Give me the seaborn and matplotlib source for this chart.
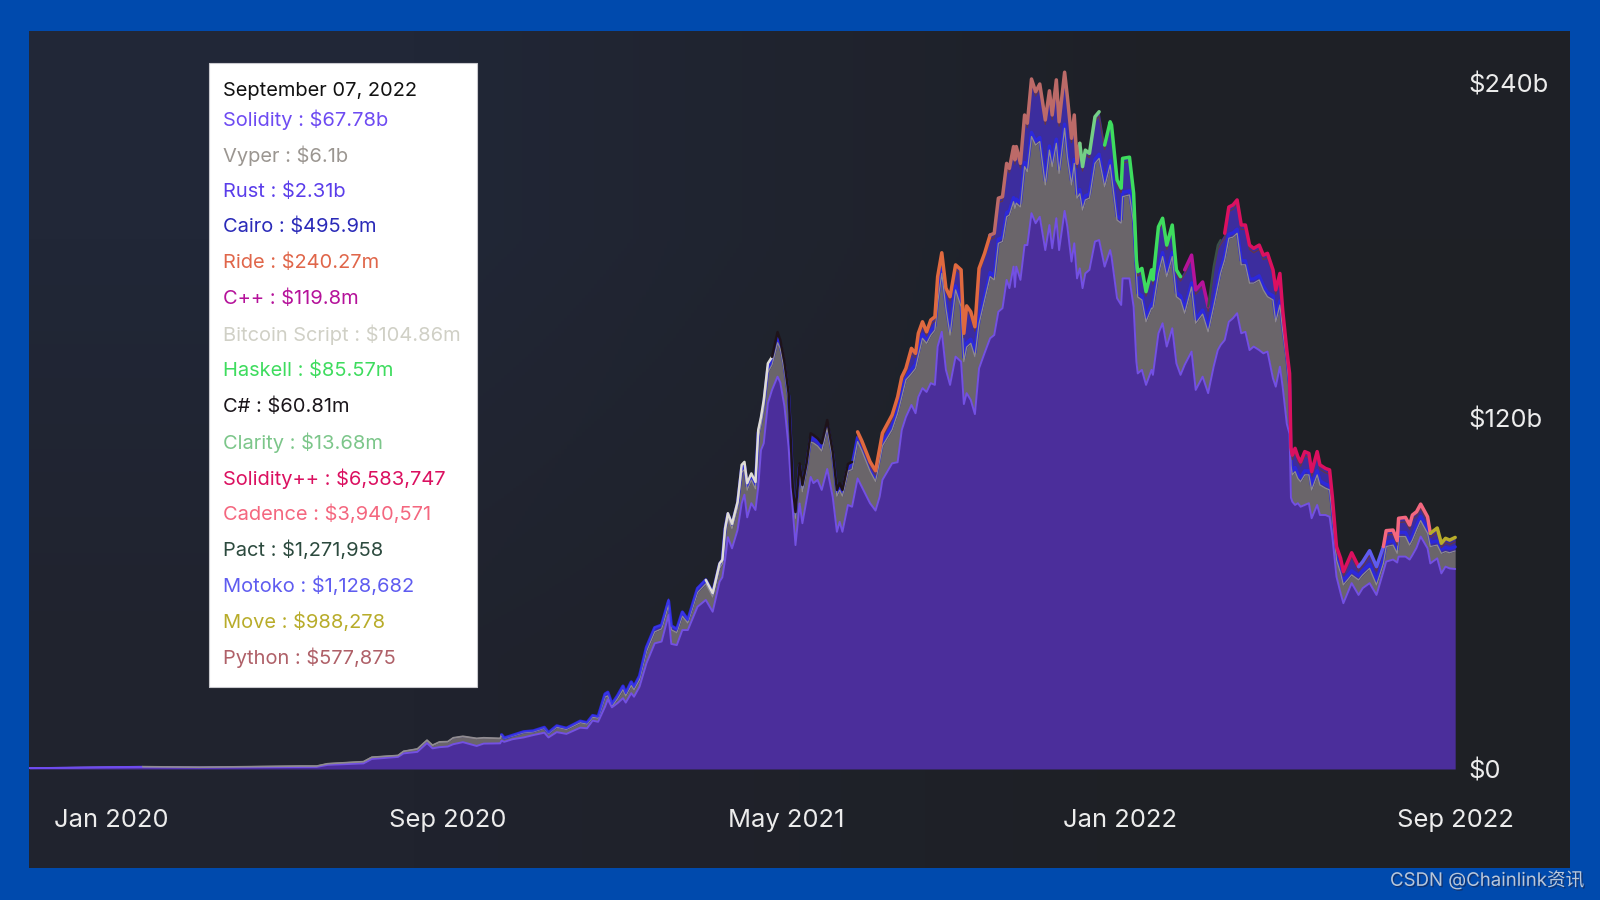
import numpy as np
import pandas as pd
import matplotlib
matplotlib.use("Agg")
import matplotlib.pyplot as plt
import matplotlib.patheffects as pe
from matplotlib.patches import Rectangle
from matplotlib.transforms import ScaledTranslation
import seaborn as sns

# days since 2020-01-07
days = [-59,23,64,137,149,157,183,189,208,212,222,229,233,238,244,248,255,265,270,282,283,285,291,299,306,314,317,323,330,340,345,349,353,358,360,363,367,371,373,377,379,383,
        388,394,399,404,406,410,414,418,425,431,436,441,
        443,445,447,450,454,457,459,461,464,467,469,471,473,476,479,483,485,488,491,493,494,496,499,501,504,507,509,512,515,519,523,526,528,530,534,537,541,544,550,554,557,559,566,570,
        573,576,580,583,585,588,591,594,597,599,602,605,608,612,616,618,620,623,626,629,633,637,640,643,646,649,651,654,655,656,659,662,664,667,670,673,677,680,682,685,687,691,693,696,698,700,702,704,706,709,713,716,720,724,725,729,732,733,738,741,743,744,747,750,754,755,759,762,765,769,772,775,778,783,786,791,795,799,802,
        804,807,810,813,816,819,822,825,828,832,835,838,842,844,847,849,852,854,855,
        856,858,860,862,865,868,870,874,876,880,883,885,888,891,893,899,904,907,912,917,922,924,929,932,933,938,941,943,946,949,954,956,961,964,967,970,974]

# top of the whole stack, $b
total = [.3,.8,.6,1.0,1.0,1.8,2.5,4.0,4.6,6.0,6.8,9.8,8.1,9.2,9.3,10.6,11.1,10.4,10.6,10.4,11.6,10.5,11.4,12.6,12.9,14.1,12.3,14.6,13.8,16.2,15.7,18.1,17.7,25.4,26.0,22.0,24.8,28.1,25.7,29.5,27.9,31.5,
         41.3,48,48.8,57.5,48.5,47.4,53.3,50.5,61.3,64.1,59.6,69.7,
         70.9,81.6,86.7,83.1,90.5,103.1,104.1,96.9,100.2,97.3,114.9,119.3,125.1,137.5,139.7,148.1,145.4,138,127.4,107,95.6,87.1,103.6,96.3,103.6,113.8,113.2,112.1,110.4,118.3,107.5,94.6,96.9,94.6,103.4,104.1,114.3,111.3,104.2,101.1,108.7,113.9,120,126.1,
         132.9,135.8,142.6,140.9,147.7,151.6,148.2,152.2,153.3,166.9,175,163,160.1,170.9,169.2,147.7,157,155,149.9,169.7,174.8,181,181.6,193.5,194,205.3,203.6,211,206.5,211,205.3,221.7,218.9,233.9,229.6,232.2,220,229.9,221.7,233.6,219.4,236.2,227.9,213.8,221.7,205.3,212.1,204.2,209.8,208.7,221.1,222.8,211.5,219.4,218.3,199.7,196.9,207,207.4,195.2,172.6,168.6,169.7,161.8,169.2,165.8,183.8,186.7,177.6,184.4,169.2,166.9,169.2,174.2,162.4,165.1,156.7,170.3,177.6,
         179.3,181.6,190.5,191.2,192.9,184.4,184.4,177.6,176.5,177.6,174.2,174.8,169.2,162.4,168,155.6,142,134.1,109,
         106.4,108.7,105.9,104.1,107.6,107,100.8,107.6,103.1,101.9,101.4,92.3,75.4,71.4,66.9,73.3,68.6,70.3,74,68.6,75.4,80.8,81,77.4,85,85.3,82.7,86.1,87.2,89.8,85.5,79.9,81.7,76.5,78.2,77.6,78.5]

# top of Solidity + Vyper, $b
through_vyper = [.3,.8,.6,1,1,1.8,2.5,4,4.6,6,6.8,9.7,8,9.1,9.2,10.5,11,10.3,10.5,10.3,11.5,10.4,11.2,12.3,12.6,13.8,12,14.2,13.4,15.7,15.2,17.5,17.2,24.4,24.8,21.2,23.8,26.9,24.8,28.3,26.9,30.3,
                 39.8,46.5,47.5,55.5,47.2,46.2,51.8,49.5,59.8,62.8,58.3,68,
                 69.5,80,85,81.5,88.5,100.5,101.5,94.5,98,95,112.5,116.5,122,134.5,137,144.5,142.5,135,125,105,93.6,85,101.5,94,101.5,110.8,110.5,109.5,107.8,115.5,105,92.5,94.5,92.5,101,101.5,111,108,101,97.5,104.5,109.5,115,120.5,
                 126.1,131.9,134,135.8,140,146,144.3,147,148.8,158,168,156.2,147.1,162.4,156.7,138.1,143,144.3,139.8,151,159,166.9,165.8,178.2,178.8,187.2,187.8,192.3,190,191.8,190.5,204.2,202.5,214.4,211.5,212.7,198,209.8,204.2,212.1,201.9,217.2,207.5,198,205.3,193.5,195,189.5,192.9,193.5,205.3,207,197.4,204.8,201,186.1,185,194,194.6,185,168,160,159,151.6,156.2,156.2,168,173.7,166.9,173.7,160.1,159,154.5,163.4,151.1,154.2,148.2,156.7,163.5,
                 168,172.6,179.9,180.3,181.6,170.9,170.9,164.7,164.7,165.8,162.4,160.1,159,151.6,157.3,148.8,138.7,128.8,103,
                 99.7,100.8,98.5,97.4,99.7,99.7,94.6,99.7,96.3,95.2,94.6,86.7,70.9,66.3,62.4,65.8,64.1,65.8,68,62.4,69.7,75.4,75.9,73.1,78.8,78.8,75.9,77.6,81,84.2,79.9,75.4,75.9,73.1,73.7,73.3,73.9]

# Solidity, $b
solidity = [.3,.6,.5,.7,.7,1.4,1.9,3.4,4.1,5.3,5.8,8.8,7,7.4,7.6,8.4,9.1,7.8,8.6,8.7,9.6,9.2,10.1,10.7,11.5,12.3,10.7,12.5,11.9,14,13.8,16.4,16,21.1,23.6,20.9,22.3,24,22.5,25.7,24.5,27.9,
            35.8,42.6,43.2,52.2,42.4,42,47.1,47.1,55,57.3,53.3,63.5,
            65,71,78.6,74.8,81,90,93,85.3,90.1,87.8,95.6,108.1,110.4,124,128.5,133,131,123,109.2,94,88,75.9,90,83.3,91.2,99,96.9,98,94.6,101.7,92.2,80.4,83.8,80.4,89.5,88.9,98.5,95.7,90.1,87.6,92.3,98,103.6,104,
            114.9,119.3,123.4,120.6,126.1,129.1,127.8,130.8,130.2,143.2,148.2,135.3,130.2,139.8,138.1,123.7,127.4,125.1,120.3,135.8,141,146,147.1,155,156.2,165.8,163,170.3,163.4,170.3,165.8,177.6,177.6,188.4,185,187.2,175.9,184.4,176.5,186.7,175.9,189.2,183.8,172,178.2,166.3,169.7,163,168,169.2,178.8,179.3,170.3,175.9,173.7,159.6,157.3,166.3,166.3,156.7,138.1,134.1,135.3,130.2,135.3,133.6,147.7,151.1,143.2,149.4,137.5,133.6,137,141.5,128.5,133,127.4,136.4,142,
            143.7,145.4,151.6,152.8,154.5,147.7,148.2,142,143.2,142,140.9,141.5,132.4,129.6,136.4,129.6,117,113.6,92,
            90.6,89.5,90.1,88.9,89.5,90.1,85,89.5,86.1,86.1,85.5,78.8,65.2,59.6,56.2,63,59,61.3,63,59,66.9,70.3,71,70,72,72,71,72.5,75,78.8,74.8,69.7,71.4,66.3,68.6,68,67.8]

# language on the top of the stack, and the day up to which it stays there
edge_layers = ["Solidity","Vyper","Rust","Bitcoin Script","C#","Ride","Python","Clarity","Haskell","C++","Pact","Solidity++","Motoko","Cadence","Move"]
edge_until = [23,283,431,479,539,637,702,717,777,795,805,904,922,956,974]

x_tick_dates = ["2020-01-07","2020-09-07","2021-05-10","2022-01-07","2022-09-07"]
x_tick_labels = ["Jan 2020","Sep 2020","May 2021","Jan 2022","Sep 2022"]
y_ticks = [0,120,240]
y_tick_labels = ["$0","$120b","$240b"]

tip_date = "September 07, 2022"
tip_names = ["Solidity","Vyper","Rust","Cairo","Ride","C++","Bitcoin Script","Haskell","C#","Clarity","Solidity++","Cadence","Pact","Motoko","Move","Python"]
tip_values = ["$67.78b","$6.1b","$2.31b","$495.9m","$240.27m","$119.8m","$104.86m","$85.57m","$60.81m","$13.68m","$6,583,747","$3,940,571","$1,271,958","$1,128,682","$988,278","$577,875"]
lang_colors = dict(zip(tip_names, ["#6E4BF2","#9B9691","#5A3DEA","#2A2AB8","#E0664A","#B5129A","#D0D0C6","#3EDC5E","#1B161B","#7CC68A","#DB1060","#F4677F","#2C4A3E","#5F5CF0","#B8AC2A","#AF6068"]))
edge_colors = dict(lang_colors, **{"C#":"#1E1319","Bitcoin Script":"#DEDCD6","Ride":"#E0693F","Python":"#BC6A68","Clarity":"#74CF86","Rust":"#3A36E6","Vyper":"#8F8B90","Pact":"#3A5048"})
edge_widths = {"Solidity":1.2,"Vyper":1.2,"Rust":1.2,"Bitcoin Script":1.8,"C#":1.8,"Pact":1.6}

sns.set_theme(style="dark")
plt.rcParams["font.family"] = ["Inter", "Noto Sans CJK SC", "DejaVu Sans"]

W, H = 1600, 900
fig = plt.figure(figsize=(W/100, H/100), dpi=100, facecolor="#004AAD")
box = [29/W, 1-868/H, 1541/W, 837/H]

bg = fig.add_axes(box, zorder=0)
bg.imshow([[(33,39,55),(30,32,38)],[(32,35,46),(30,32,37)]], aspect="auto", interpolation="bilinear")
bg.set_axis_off()

ax = fig.add_axes(box, zorder=1)
ax.patch.set_alpha(0)

start = pd.Timestamp("2020-01-07")
df = pd.DataFrame({"date": start + pd.to_timedelta(days, unit="D"), "day": days,
                   "total": total, "vyper": through_vyper, "solidity": solidity})

ax.fill_between(df["date"], 0, df["solidity"], color="#4B2E9B", lw=0)
ax.fill_between(df["date"], df["solidity"], df["vyper"], color="#6A656A", lw=0)
ax.fill_between(df["date"], df["vyper"], df["total"], color="#3C2D9E", lw=0)

def edge(y, color, lw, data=df, alpha=1.0):
    sns.lineplot(x=data["date"], y=y, color=color, lw=lw, alpha=alpha, ax=ax,
                 estimator=None, sort=False, legend=False, solid_joinstyle="round")

rust_part = df[df["day"] >= 283]
edge(np.minimum(rust_part["vyper"] + 1.4, rust_part["total"]), "#2C28DC", 2.4, data=rust_part)
edge(df["vyper"], "#8F8B90", 0.9)
edge(df["solidity"], "#7350E4", 1.4)

late = df[df["day"] >= 540]
edge(late["total"] - 1.5, "#6E3A30", 0.9, data=late, alpha=0.8)

prev = -60
for name, until in zip(edge_layers, edge_until):
    seg = df[(df["day"] >= prev) & (df["day"] <= until)]
    edge(seg["total"], edge_colors[name], edge_widths.get(name, 2.5), data=seg)
    prev = until

ax.set_xlim(start + pd.Timedelta(days=-59.4), start + pd.Timedelta(days=1057.2))
ax.set_ylim((769-868)/2.95, (769-31)/2.95)
ax.set_xlabel(""); ax.set_ylabel("")
ax.grid(False)
for s in ax.spines.values():
    s.set_visible(False)

ax.set_xticks(pd.to_datetime(x_tick_dates))
ax.set_xticklabels(x_tick_labels)
ax.yaxis.tick_right()
ax.set_yticks(y_ticks)
ax.set_yticklabels(y_tick_labels, ha="left")
ax.tick_params(axis="x", length=0, pad=-42.6, labelsize=18.4, labelcolor="#ECECEC")
ax.tick_params(axis="y", length=0, pad=-72.8, labelsize=18.4, labelcolor="#ECECEC")
labs = ax.get_yticklabels()
labs[1].set_transform(labs[1].get_transform() + ScaledTranslation(0, -3/100, fig.dpi_scale_trans))
labs[2].set_transform(labs[2].get_transform() + ScaledTranslation(0, -22/100, fig.dpi_scale_trans))

# tooltip
fig.add_artist(Rectangle((209/W, 1-687/H), 268/W, 624/H, transform=fig.transFigure,
                         fc="white", ec="#C9C9CE", lw=0.8, zorder=5))
fig.text(223/W, 1-90.5/H, tip_date, color="#111111", fontsize=14.45, va="center", zorder=6)
for i, (n, v) in enumerate(zip(tip_names, tip_values)):
    fig.text(223/W, 1-(119.5+35.9*i)/H, f"{n} : {v}", color=lang_colors[n], fontsize=14.45, va="center", zorder=6)

fig.text(1390/W, 1-880/H, "CSDN @Chainlink资讯", color="#B9C7DA", fontsize=13.4, va="center", zorder=6,
         path_effects=[pe.withSimplePatchShadow(offset=(1, -1), shadow_rgbFace="#1A2A55", alpha=0.7)])

fig.savefig("out.png", dpi=100, facecolor=fig.get_facecolor())
